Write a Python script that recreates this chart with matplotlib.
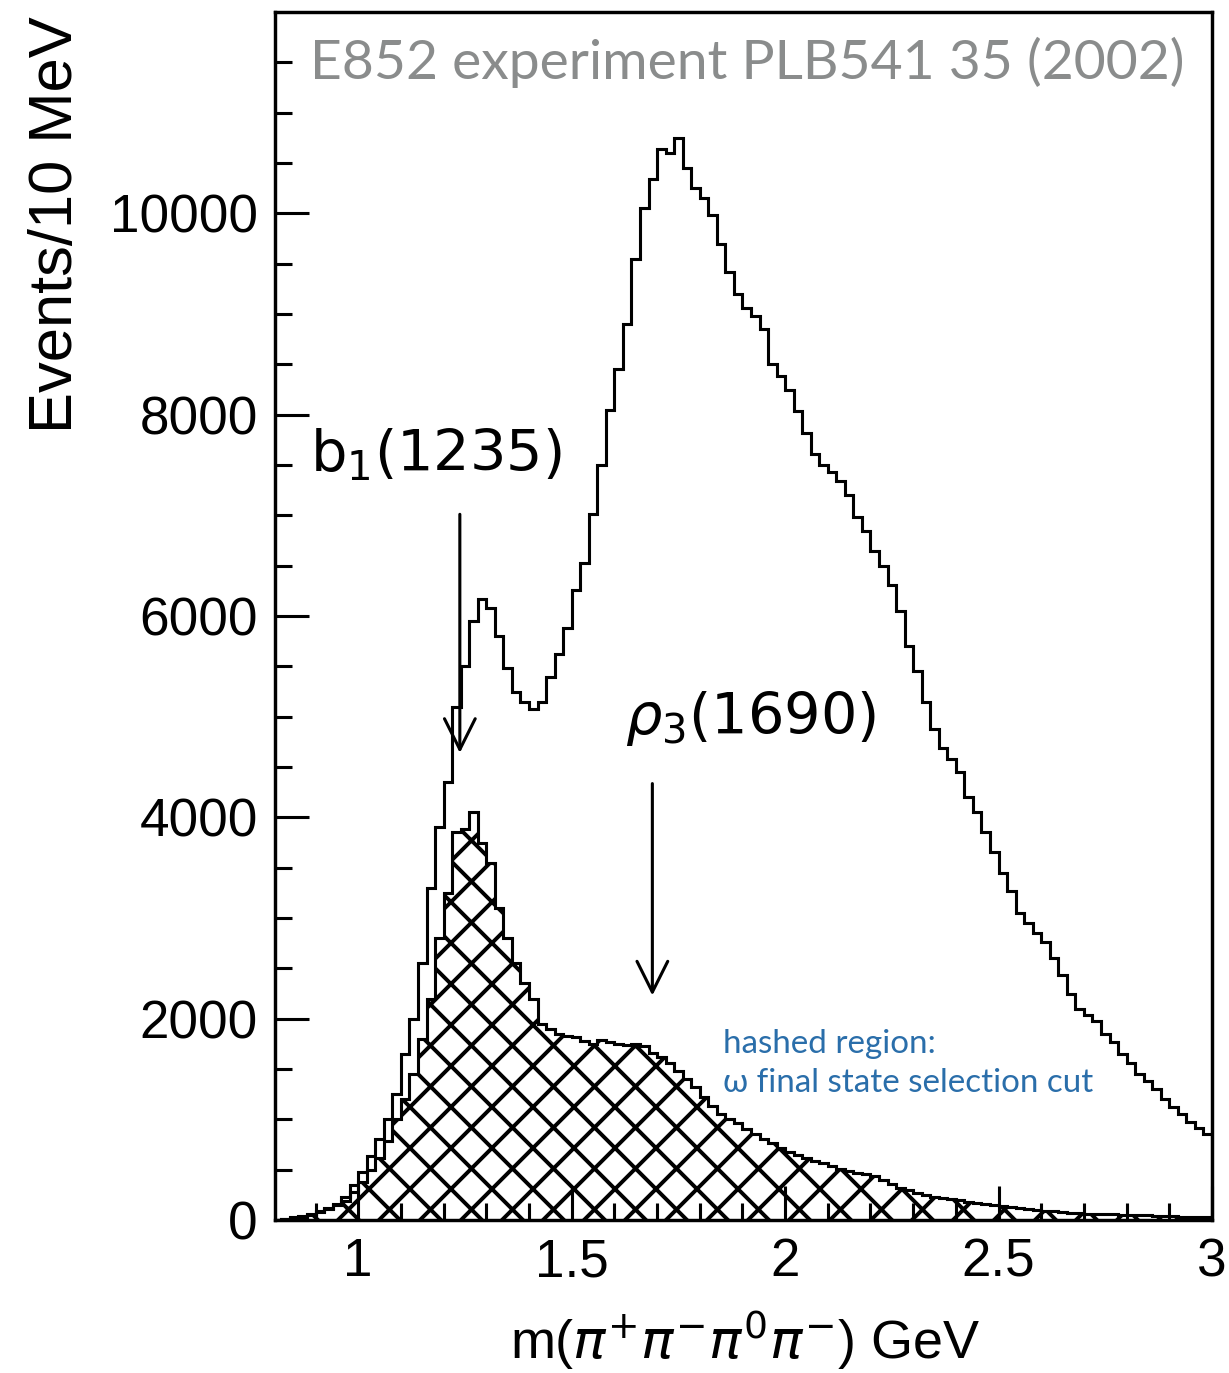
import numpy as np
import matplotlib
matplotlib.use('Agg')
import matplotlib.pyplot as plt

# 20 MeV bins from 0.80 to 3.00 GeV
bin_lo = 0.80
bin_w = 0.02

# all events (upper histogram)
total = [0, 10, 25, 40, 60, 85, 120, 160, 230, 350,
         480, 640, 800, 1000, 1250, 1650, 2000, 2550, 3300, 3900,
         4350, 5100, 5500, 5950, 6170, 6080, 5800, 5480, 5250, 5150,
         5080, 5150, 5390, 5620, 5880, 6260, 6530, 7010, 7500, 8050,
         8450, 8900, 9550, 10050, 10340, 10640, 10600, 10750, 10450, 10250,
         10150, 9980, 9700, 9420, 9200, 9060, 8980, 8850, 8500, 8380,
         8250, 8040, 7820, 7610, 7500, 7430, 7340, 7200, 6980, 6840,
         6650, 6500, 6310, 6050, 5700, 5450, 5150, 4880, 4690, 4580,
         4450, 4200, 4050, 3850, 3660, 3450, 3270, 3050, 2950, 2850,
         2760, 2600, 2430, 2250, 2100, 2040, 1980, 1850, 1770, 1650,
         1560, 1450, 1380, 1300, 1200, 1120, 1050, 970, 910, 850]

# omega final state selection (hashed)
omega = [0, 5, 15, 30, 50, 80, 110, 150, 190, 280,
         380, 500, 620, 780, 1000, 1200, 1450, 1800, 2200, 2800,
         3250, 3850, 3880, 4050, 3750, 3550, 3100, 2800, 2550, 2350,
         2200, 1950, 1900, 1850, 1830, 1820, 1780, 1750, 1790, 1770,
         1750, 1740, 1750, 1730, 1660, 1620, 1560, 1480, 1400, 1320,
         1220, 1130, 1050, 1000, 960, 900, 850, 800, 760, 720,
         680, 650, 620, 590, 565, 540, 510, 490, 470, 455,
         440, 400, 360, 320, 295, 270, 250, 230, 215, 205,
         195, 180, 170, 155, 145, 135, 125, 115, 105, 95,
         90, 85, 75, 70, 65, 62, 60, 58, 55, 52,
         50, 48, 45, 40, 38, 35, 32, 30, 28, 25]

edges = bin_lo + bin_w * np.arange(len(total) + 1)

DPI = 246
plt.rcParams['hatch.linewidth'] = 1.15
plt.rcParams['font.family'] = ['Liberation Sans', 'DejaVu Sans']

fig = plt.figure(figsize=(1229 / DPI, 1373 / DPI), dpi=DPI)
ax = fig.add_axes([275 / 1229, 1 - 1220 / 1373, 937 / 1229, 1208 / 1373])

ax.stairs(total, edges, color='black', lw=0.9)
ax.stairs(omega, edges, fill=True, facecolor='none', edgecolor='black',
          hatch='xx', lw=0.9)

ax.set_xlim(0.805, 3.0)
ax.set_ylim(0, 12000)

ax.set_xticks([1, 1.5, 2, 2.5, 3])
ax.set_xticklabels(['1', '1.5', '2', '2.5', '3'])
ax.set_xticks(np.arange(0.9, 3.0, 0.1), minor=True)
ax.set_yticks(np.arange(0, 10001, 2000))
ax.set_yticks(np.arange(0, 12000, 500), minor=True)

ax.tick_params(which='both', direction='in', top=False, right=False,
               width=0.9, labelsize=15.5)
ax.tick_params(which='major', length=10, pad=5)
ax.tick_params(which='minor', length=5)
for s in ax.spines.values():
    s.set_linewidth(1.0)

fig.text(57 / 1229, 1 - 225 / 1373, 'Events/10 MeV', rotation=90,
         ha='center', va='center', fontsize=18)
fig.text(745 / 1229, 1 - 1340 / 1373, r'm($\pi^{+}\pi^{-}\pi^{0}\pi^{-}$) GeV',
         ha='center', va='center', fontsize=15.8)

ax.text(0.037, 0.958, 'E852 experiment PLB541 35 (2002)',
        transform=ax.transAxes, ha='left', va='center',
        fontsize=16.2, color='#8a8c8c', family=['Lato', 'DejaVu Sans'])

# resonance labels and arrows
ax.text(0.888, 7590, r'b$_1$(1235)', ha='left', va='center', fontsize=16.8,
        family=['DejaVu Sans'])
ax.annotate('', xy=(1.238, 4640), xytext=(1.238, 7010),
            arrowprops=dict(arrowstyle='->,head_length=0.9,head_width=0.45',
                            lw=0.9, color='black', mutation_scale=10,
                            shrinkA=0, shrinkB=0))
ax.text(1.624, 4980, r'$\rho_3$(1690)', ha='left', va='center', fontsize=16.8,
        family=['DejaVu Sans'])
ax.annotate('', xy=(1.689, 2230), xytext=(1.689, 4335),
            arrowprops=dict(arrowstyle='->,head_length=0.9,head_width=0.45',
                            lw=0.9, color='black', mutation_scale=10,
                            shrinkA=0, shrinkB=0))

ax.text(1.855, 1900, 'hashed region:\nω final state selection cut',
        ha='left', va='top', fontsize=9.7, color='#2a6eaa',
        family=['Lato', 'DejaVu Sans'], linespacing=1.4)

fig.savefig('out.png', dpi=DPI)
